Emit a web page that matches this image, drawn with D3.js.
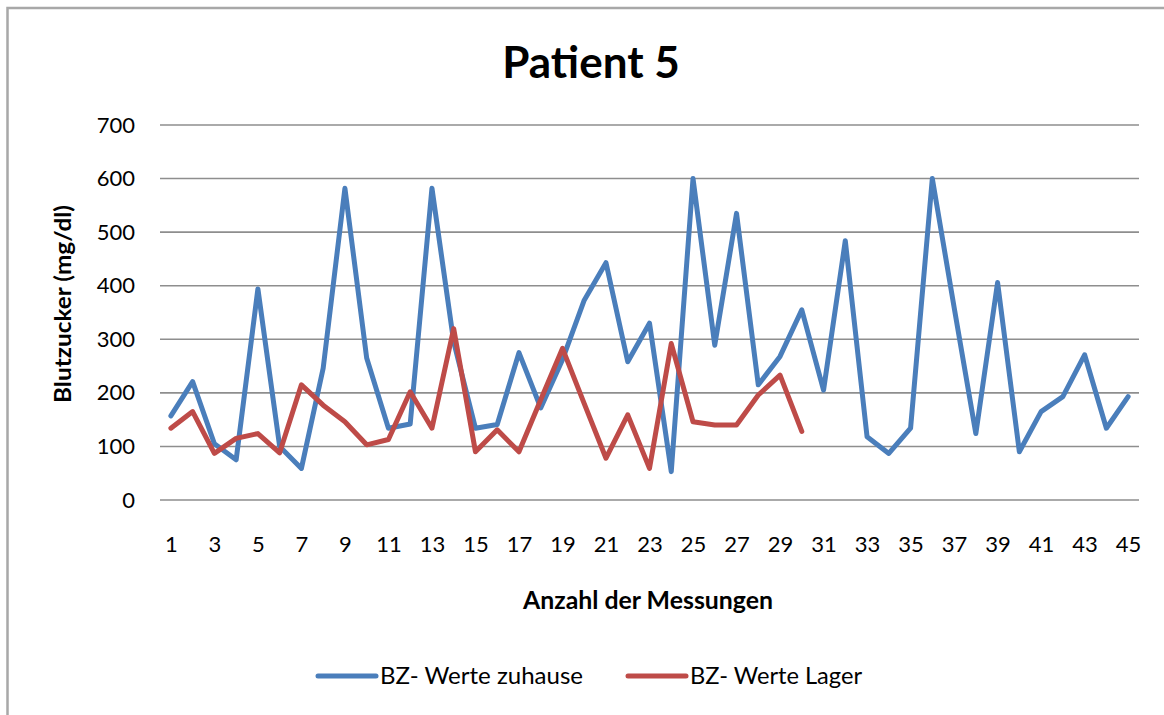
<!DOCTYPE html>
<html>
<head>
<meta charset="utf-8">
<script src="https://cdn.jsdelivr.net/npm/d3@7"></script>
<style>
  body { margin: 0; background: #fff; }
  text { font-family: Lato, "Open Sans", sans-serif; fill: #000; }
</style>
</head>
<body>
<svg class="chart"></svg>
<script>
// measurements 1..45
const categories = d3.range(1, 46);
const tickLabels = categories.filter(d => d % 2 === 1);
const yTicks = [0, 100, 200, 300, 400, 500, 600, 700];

const zuhause = [157, 221, 105, 75, 394, 100, 59, 246, 582, 265, 134, 142, 582, 295, 134,
  141, 275, 172, 262, 373, 443, 258, 330, 53, 600, 289, 535, 215, 268, 355,
  205, 484, 118, 87, 134, 600, 360, 124, 406, 90, 165, 193, 271, 134, 193];
const lager = [134, 165, 87, 115, 124, 88, 215, 177, 146, 103, 113, 202, 134, 320, 90,
  131, 90, 187, 283, 180, 78, 159, 59, 292, 146, 140, 140, 196, 233, 128];

const seriesNames = ["BZ- Werte zuhause", "BZ- Werte Lager"];
const seriesColors = ["#4a7ebb", "#be4b48"];

const width = 1164, height = 715;
const plot = {left: 160, right: 1139, top: 125, bottom: 500};

const svg = d3.select(".chart")
    .attr("width", width)
    .attr("height", height);

// chart frame (only top and left edges are visible in the picture)
svg.append("path")
    .attr("d", `M7.5,${height} V8 H${width}`)
    .style("fill", "none")
    .style("stroke", "#a8a8a8")
    .style("stroke-width", 2.5);

const x = d3.scalePoint()
    .domain(categories)
    .range([plot.left, plot.right])
    .padding(0.5);

const y = d3.scaleLinear()
    .domain([0, 700])
    .range([plot.bottom, plot.top]);

// gridlines
svg.append("g")
    .selectAll("line")
    .data(yTicks)
    .enter().append("line")
    .attr("x1", plot.left)
    .attr("x2", plot.right)
    .attr("y1", d => y(d))
    .attr("y2", d => y(d))
    .style("stroke", "#8e8e8e")
    .style("stroke-width", 1.6);

// y axis labels
const yAxis = svg.append("g")
    .attr("transform", `translate(${plot.left}, 0)`)
    .call(d3.axisLeft(y).tickValues(yTicks).tickSize(0).tickPadding(25));
yAxis.select(".domain").remove();
yAxis.selectAll("text")
    .style("font-family", "Lato, sans-serif")
    .style("font-size", "22px")
    .style("fill", "#000");

// x axis labels
const xAxis = svg.append("g")
    .attr("transform", `translate(0, ${plot.bottom})`)
    .call(d3.axisBottom(x).tickValues(tickLabels).tickSize(0).tickPadding(36));
xAxis.select(".domain").remove();
xAxis.selectAll("text")
    .style("font-family", "Lato, sans-serif")
    .style("font-size", "22px")
    .style("fill", "#000");

// titles
svg.append("text")
    .attr("x", 591)
    .attr("y", 78)
    .attr("text-anchor", "middle")
    .style("font-size", "44px")
    .style("font-weight", "bold")
    .text("Patient 5");

svg.append("text")
    .attr("x", 648)
    .attr("y", 609)
    .attr("text-anchor", "middle")
    .style("font-size", "24px")
    .style("font-weight", "bold")
    .attr("textLength", 250)
    .attr("lengthAdjust", "spacingAndGlyphs")
    .text("Anzahl der Messungen");

svg.append("text")
    .attr("transform", "translate(71, 304) rotate(-90)")
    .attr("text-anchor", "middle")
    .style("font-size", "22px")
    .style("font-weight", "bold")
    .attr("textLength", 198)
    .attr("lengthAdjust", "spacingAndGlyphs")
    .text("Blutzucker (mg/dl)");

// series
const line = d3.line()
    .x((d, i) => x(categories[i]))
    .y(d => y(d));

[zuhause, lager].forEach((values, i) => {
    svg.append("path")
        .datum(values)
        .attr("d", line)
        .style("fill", "none")
        .style("stroke", seriesColors[i])
        .style("stroke-width", 5)
        .style("stroke-linejoin", "round")
        .style("stroke-linecap", "round");
});

// legend
const legendX = [318, 628];
const legendW = [203, 172];
const legend = svg.append("g")
    .selectAll("g")
    .data(seriesNames)
    .enter().append("g")
    .attr("transform", (d, i) => `translate(${legendX[i]}, 676)`);

legend.append("line")
    .attr("x1", 0)
    .attr("x2", 58)
    .style("stroke", (d, i) => seriesColors[i])
    .style("stroke-width", 5)
    .style("stroke-linecap", "round");

legend.append("text")
    .attr("x", 62)
    .attr("dy", "0.35em")
    .style("font-size", "23px")
    .attr("textLength", (d, i) => legendW[i])
    .attr("lengthAdjust", "spacingAndGlyphs")
    .text(d => d);
</script>
</body>
</html>
